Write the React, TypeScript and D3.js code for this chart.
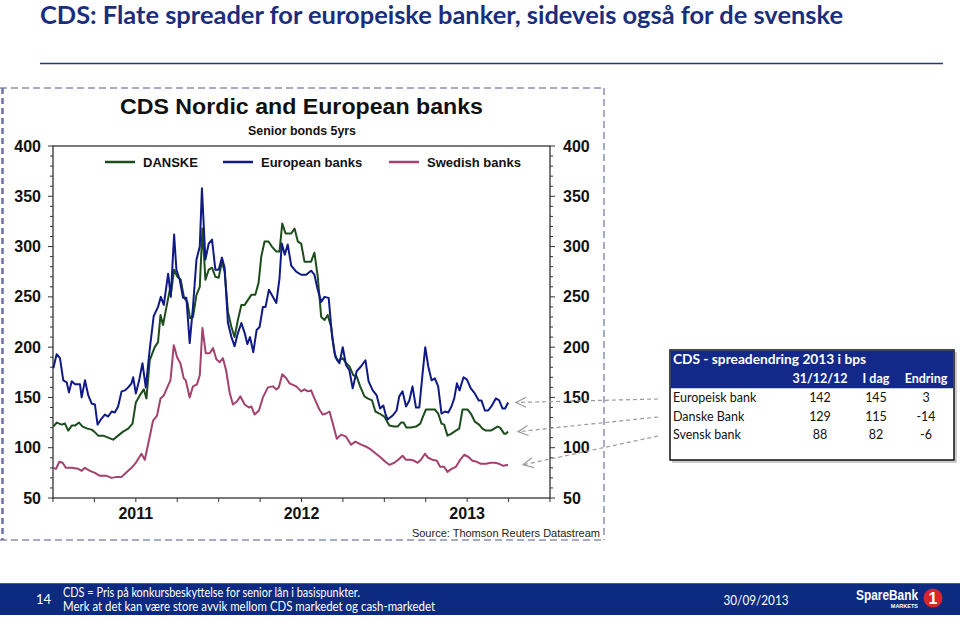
import React from "react";
import * as d3 from "d3";

// ---------- data (decimal year, bps) ----------
const european: [number, number][] = [
  [2011.002,179],[2011.022,193],[2011.042,189],[2011.062,167],[2011.083,165],[2011.096,155],[2011.113,166],[2011.133,163],
  [2011.163,163],[2011.173,150],[2011.193,167],[2011.213,152],[2011.233,144],[2011.253,143],[2011.269,123],[2011.293,129],
  [2011.313,133],[2011.333,131],[2011.354,136],[2011.373,135],[2011.393,141],[2011.414,156],[2011.434,157],[2011.454,160],
  [2011.474,164],[2011.484,170],[2011.500,154],[2011.520,167],[2011.540,184],[2011.560,160],[2011.584,198],[2011.608,231],
  [2011.634,240],[2011.651,250],[2011.669,242],[2011.695,273],[2011.711,250],[2011.731,312],[2011.745,277],[2011.765,267],
  [2011.785,249],[2011.805,249],[2011.825,204],[2011.845,240],[2011.866,287],[2011.886,300],[2011.899,358],[2011.920,287],
  [2011.940,303],[2011.960,307],[2011.980,277],[2012.000,277],[2012.020,289],[2012.036,279],[2012.056,224],[2012.077,210],
  [2012.096,201],[2012.116,214],[2012.137,224],[2012.157,214],[2012.173,203],[2012.189,210],[2012.209,195],[2012.229,217],
  [2012.247,220],[2012.267,240],[2012.283,240],[2012.303,257],[2012.327,250],[2012.348,244],[2012.367,268],[2012.381,303],
  [2012.399,292],[2012.417,302],[2012.438,281],[2012.468,275],[2012.498,272],[2012.528,272],[2012.558,276],[2012.578,272],
  [2012.598,257],[2012.619,245],[2012.639,250],[2012.664,249],[2012.685,210],[2012.705,190],[2012.729,184],[2012.749,200],
  [2012.769,182],[2012.789,177],[2012.809,159],[2012.833,176],[2012.860,181],[2012.886,187],[2012.905,166],[2012.930,157],
  [2012.954,152],[2012.974,139],[2012.994,142],[2013.006,134],[2013.020,128],[2013.050,132],[2013.074,137],[2013.090,151],
  [2013.110,156],[2013.131,141],[2013.151,147],[2013.170,161],[2013.191,140],[2013.211,140],[2013.231,174],[2013.247,200],
  [2013.265,181],[2013.285,167],[2013.305,169],[2013.325,161],[2013.345,134],[2013.366,136],[2013.386,135],[2013.405,141],
  [2013.422,149],[2013.438,164],[2013.454,157],[2013.478,170],[2013.498,168],[2013.522,159],[2013.546,154],[2013.570,147],
  [2013.586,147],[2013.607,137],[2013.627,137],[2013.646,141],[2013.673,149],[2013.693,147],[2013.713,139],[2013.729,139],
  [2013.747,145],
];

const danske: [number, number][] = [
  [2011.002,121],[2011.022,125],[2011.052,123],[2011.072,124],[2011.092,117],[2011.113,122],[2011.133,122],[2011.157,125],
  [2011.179,121],[2011.207,119],[2011.233,118],[2011.249,116],[2011.273,112],[2011.303,112],[2011.333,110],[2011.363,108],
  [2011.393,112],[2011.423,116],[2011.454,119],[2011.480,124],[2011.500,145],[2011.524,152],[2011.548,158],[2011.564,149],
  [2011.584,187],[2011.614,200],[2011.634,205],[2011.649,232],[2011.664,222],[2011.685,240],[2011.705,257],[2011.711,252],
  [2011.731,277],[2011.751,270],[2011.771,267],[2011.791,249],[2011.811,245],[2011.827,229],[2011.845,230],[2011.866,252],
  [2011.886,260],[2011.902,318],[2011.920,267],[2011.940,277],[2011.960,279],[2011.980,270],[2012.000,269],[2012.020,285],
  [2012.036,275],[2012.056,235],[2012.077,220],[2012.096,210],[2012.116,227],[2012.137,242],[2012.157,242],[2012.177,247],
  [2012.197,252],[2012.221,252],[2012.241,264],[2012.257,290],[2012.277,305],[2012.301,305],[2012.321,300],[2012.348,295],
  [2012.367,295],[2012.384,323],[2012.404,313],[2012.438,313],[2012.458,318],[2012.478,305],[2012.498,303],[2012.518,285],
  [2012.558,285],[2012.578,294],[2012.598,270],[2012.619,230],[2012.639,227],[2012.658,232],[2012.679,220],[2012.699,194],
  [2012.719,186],[2012.749,189],[2012.769,184],[2012.789,181],[2012.813,172],[2012.833,171],[2012.854,161],[2012.880,151],
  [2012.899,149],[2012.926,147],[2012.946,136],[2012.970,134],[2013.000,131],[2013.030,122],[2013.060,121],[2013.080,121],
  [2013.101,125],[2013.116,125],[2013.133,120],[2013.161,120],[2013.191,121],[2013.217,124],[2013.233,131],[2013.251,138],
  [2013.281,138],[2013.305,138],[2013.325,134],[2013.345,124],[2013.361,123],[2013.381,112],[2013.405,114],[2013.432,117],
  [2013.452,119],[2013.472,138],[2013.502,138],[2013.522,134],[2013.546,126],[2013.572,123],[2013.592,119],[2013.613,117],
  [2013.643,117],[2013.663,119],[2013.683,121],[2013.699,120],[2013.723,114],[2013.733,114],[2013.747,116],
];

const swedish: [number, number][] = [
  [2011.002,80],[2011.018,79],[2011.038,86],[2011.058,85],[2011.078,80],[2011.113,80],[2011.152,79],[2011.173,77],
  [2011.193,80],[2011.223,77],[2011.253,75],[2011.283,72],[2011.323,72],[2011.354,70],[2011.384,71],[2011.414,71],
  [2011.434,74],[2011.474,80],[2011.500,85],[2011.534,94],[2011.554,88],[2011.580,108],[2011.604,127],[2011.628,132],
  [2011.649,149],[2011.669,152],[2011.695,162],[2011.709,167],[2011.729,202],[2011.749,190],[2011.769,184],[2011.789,169],
  [2011.801,167],[2011.825,150],[2011.845,161],[2011.869,163],[2011.886,172],[2011.902,219],[2011.922,194],[2011.946,194],
  [2011.966,199],[2011.986,188],[2012.006,185],[2012.026,189],[2012.046,176],[2012.066,155],[2012.086,143],[2012.110,146],
  [2012.131,151],[2012.157,143],[2012.183,140],[2012.197,141],[2012.217,133],[2012.243,137],[2012.267,150],[2012.297,160],
  [2012.327,161],[2012.348,158],[2012.363,160],[2012.384,173],[2012.408,169],[2012.428,164],[2012.468,161],[2012.498,156],
  [2012.518,158],[2012.538,156],[2012.558,157],[2012.578,149],[2012.608,138],[2012.628,133],[2012.649,134],[2012.669,136],
  [2012.689,124],[2012.713,109],[2012.739,113],[2012.769,111],[2012.799,103],[2012.825,106],[2012.860,103],[2012.890,101],
  [2012.920,98],[2012.950,94],[2012.980,90],[2013.006,86],[2013.030,83],[2013.060,85],[2013.084,88],[2013.110,92],
  [2013.131,88],[2013.157,88],[2013.181,87],[2013.201,85],[2013.221,88],[2013.245,94],[2013.265,90],[2013.291,88],
  [2013.317,87],[2013.337,81],[2013.361,81],[2013.381,76],[2013.405,79],[2013.432,81],[2013.458,88],[2013.482,93],
  [2013.506,91],[2013.532,87],[2013.558,86],[2013.582,84],[2013.613,84],[2013.643,85],[2013.667,85],[2013.693,84],
  [2013.719,82],[2013.747,83],
];

const seriesNames = ["DANSKE", "European banks", "Swedish banks"];
const seriesColors = ["#1d4d1d", "#101a86", "#a3426e"];
const yearLabels = [2011, 2012, 2013];

const tableHeader = ["31/12/12", "I dag", "Endring"];
const tableRows = ["Europeisk bank", "Danske Bank", "Svensk bank"];
const startValues = [142, 129, 88];
const todayValues = [145, 115, 82];
const changeValues = [3, -14, -6];

// ---------- layout ----------
const W = 960, H = 618;
const PL = 53, PR = 550, PT = 146, PB = 498;
const x = d3.scaleLinear().domain([2011, 2014]).range([PL, PR]);
const y = d3.scaleLinear().domain([50, 400]).range([PB, PT]);
const line = d3.line<[number, number]>().x(d => x(d[0])).y(d => y(d[1]));

const NAVY = "#0c2a80";
const ARIAL = "'Liberation Sans', Arial, sans-serif";
const CAL = "Lato, 'Open Sans', sans-serif";

export default function App() {
  const majorY = y.ticks(7);
  const minorY = d3.range(50, 401, 10);
  const qTicks = d3.range(2011, 2014.01, 0.25);
  const series = [danske, european, swedish];
  const legendX = [105, 223, 389];
  const lastPts = [european[european.length - 1], danske[danske.length - 1], swedish[swedish.length - 1]];
  const arrowStartY = [399, 417, 436];
  const arrowEndOff = [[4, 0], [6, 0], [11, 0]];
  const colX = [820, 876, 926];

  return (
    <svg width={W} height={H} style={{ position: "fixed", left: 0, top: 0, background: "#fff" }}>
      <defs>
        <marker id="chev" viewBox="-12 -7 14 14" markerWidth={14} markerHeight={14} refX={0} refY={0}
          orient="auto" markerUnits="userSpaceOnUse">
          <path d="M-10,-5 L0,0 L-10,5" fill="none" stroke="#9a9a9a" strokeWidth={1.2} />
        </marker>
      </defs>
      <rect width={W} height={H} fill="#fff" />

      {/* slide title */}
      <text x={40} y={24} fill="#1b2e7c" fontFamily={CAL} fontWeight={700} fontSize={24}
        textLength={803} lengthAdjust="spacingAndGlyphs">
        CDS: Flate spreader for europeiske banker, sideveis også for de svenske
      </text>
      <line x1={40} x2={943} y1={63.5} y2={63.5} stroke="#2a3a6a" strokeWidth={1.5} />

      {/* dashed frame */}
      <g stroke="#8c90b0" strokeWidth={1.5} strokeDasharray="7,4" fill="none">
        <line x1={0} x2={604} y1={88} y2={88} />
        <line x1={604} x2={604} y1={88} y2={540} />
        <line x1={0} x2={604} y1={540} y2={540} />
        <line x1={2.5} x2={2.5} y1={88} y2={540} stroke="#6e72aa" strokeWidth={2.5} strokeDasharray="6,4" />
      </g>

      {/* chart title */}
      <text x={120} y={114} fontFamily={ARIAL} fontWeight={700} fontSize={22} fill="#111"
        textLength={363} lengthAdjust="spacingAndGlyphs">CDS Nordic and European banks</text>
      <text x={248} y={135} fontFamily={ARIAL} fontWeight={700} fontSize={13} fill="#111"
        textLength={108} lengthAdjust="spacingAndGlyphs">Senior bonds 5yrs</text>

      {/* plot frame */}
      <rect x={PL} y={PT} width={PR - PL} height={PB - PT} fill="none" stroke="#222" strokeWidth={1.2} />

      {/* y ticks */}
      {minorY.map(v => {
        const maj = v % 50 === 0;
        return (
          <g key={"yt" + v} stroke="#333" strokeWidth={1}>
            <line x1={PL - (maj ? 5 : 3)} x2={PL} y1={y(v)} y2={y(v)} />
            <line x1={PR} x2={PR + (maj ? 5 : 3)} y1={y(v)} y2={y(v)} />
          </g>
        );
      })}
      {majorY.map(v => (
        <g key={"yl" + v} fontFamily={ARIAL} fontWeight={700} fontSize={16} fill="#111">
          <text x={41} y={y(v) + 5.5} textAnchor="end">{v}</text>
          <text x={563} y={y(v) + 5.5}>{v}</text>
        </g>
      ))}

      {/* x ticks */}
      {qTicks.map(t => (
        <line key={"xt" + t} x1={x(t)} x2={x(t)} y1={PB} y2={PB + 4} stroke="#333" />
      ))}
      {yearLabels.map(yr => (
        <text key={"xl" + yr} x={x(yr + 0.5)} y={519} textAnchor="middle" fontFamily={ARIAL}
          fontWeight={700} fontSize={16} fill="#111">{yr}</text>
      ))}

      {/* legend */}
      {seriesNames.map((n, i) => (
        <g key={"lg" + n}>
          <line x1={legendX[i]} x2={legendX[i] + 30} y1={162} y2={162} stroke={seriesColors[i]} strokeWidth={2.5} />
          <text x={legendX[i] + 38} y={167} fontFamily={ARIAL} fontWeight={700} fontSize={13} fill="#111">{n}</text>
        </g>
      ))}

      {/* series */}
      {series.map((s, i) => (
        <path key={"s" + i} d={line(s) || ""} fill="none" stroke={seriesColors[i]} strokeWidth={2}
          strokeLinejoin="round" />
      ))}

      <text x={600} y={537} textAnchor="end" fontFamily={ARIAL} fontSize={11} fill="#222">
        Source: Thomson Reuters Datastream
      </text>

      {/* arrows */}
      {lastPts.map((p, i) => (
        <line key={"ar" + i} x1={658} y1={arrowStartY[i]} x2={x(p[0]) + arrowEndOff[i][0] + 4}
          y2={y(p[1]) + arrowEndOff[i][1]} stroke="#9a9a9a" strokeWidth={1.2} strokeDasharray="4,3"
          markerEnd="url(#chev)" />
      ))}

      {/* table */}
      <rect x={672} y={352} width={285} height={111} fill="#9a9a9a" opacity={0.5} />
      <rect x={670} y={350} width={284} height={110} fill="#fff" stroke="#111" strokeWidth={1.5} />
      <rect x={670.75} y={350.75} width={282.5} height={37.5} fill="#13298a" />
      <text x={673} y={364} fill="#fff" fontFamily={CAL} fontWeight={700} fontSize={13}
        textLength={193} lengthAdjust="spacingAndGlyphs">CDS - spreadendring 2013 i bps</text>
      {tableHeader.map((h, i) => (
        <text key={"th" + h} x={colX[i]} y={383} textAnchor="middle" fill="#fff"
          fontFamily={CAL} fontWeight={700} fontSize={12.5}>{h}</text>
      ))}
      {tableRows.map((r, i) => (
        <g key={"tr" + r} fontFamily={CAL} fontSize={12.5} fill="#111">
          <text x={673} y={402 + i * 18.7}>{r}</text>
          <text x={colX[0]} y={402 + i * 18.7} textAnchor="middle">{startValues[i]}</text>
          <text x={colX[1]} y={402 + i * 18.7} textAnchor="middle">{todayValues[i]}</text>
          <text x={colX[2]} y={402 + i * 18.7} textAnchor="middle">{changeValues[i]}</text>
        </g>
      ))}

      {/* footer */}
      <rect x={0} y={583} width={W} height={32} fill={NAVY} />
      <line x1={0} x2={W} y1={583.5} y2={583.5} stroke="#3a5aa8" strokeWidth={1} />
      <text x={36} y={604} fill="#fff" fontFamily={CAL} fontSize={13}>14</text>
      <text x={63} y={597} fill="#fff" fontFamily={CAL} fontSize={12.5}
        textLength={297} lengthAdjust="spacingAndGlyphs">CDS = Pris på konkursbeskyttelse for senior lån i basispunkter.</text>
      <text x={63} y={611} fill="#fff" fontFamily={CAL} fontSize={12.5}
        textLength={372} lengthAdjust="spacingAndGlyphs">Merk at det kan være store avvik mellom CDS markedet og cash-markedet</text>
      <text x={756} y={605} fill="#fff" fontFamily={CAL} fontSize={13} textAnchor="middle"
        textLength={65} lengthAdjust="spacingAndGlyphs">30/09/2013</text>
      <text x={856} y={600} fill="#fff" fontFamily={ARIAL} fontWeight={700} fontSize={14}
        textLength={62} lengthAdjust="spacingAndGlyphs">SpareBank</text>
      <text x={918} y={608} fill="#fff" fontFamily={ARIAL} fontWeight={700} fontSize={5.5} textAnchor="end">MARKETS</text>
      <circle cx={933} cy={598} r={9.5} fill="#d8262e" />
      <text x={933} y={604} fill="#fff" fontFamily={ARIAL} fontWeight={700} fontSize={16} textAnchor="middle">1</text>
    </svg>
  );
}
